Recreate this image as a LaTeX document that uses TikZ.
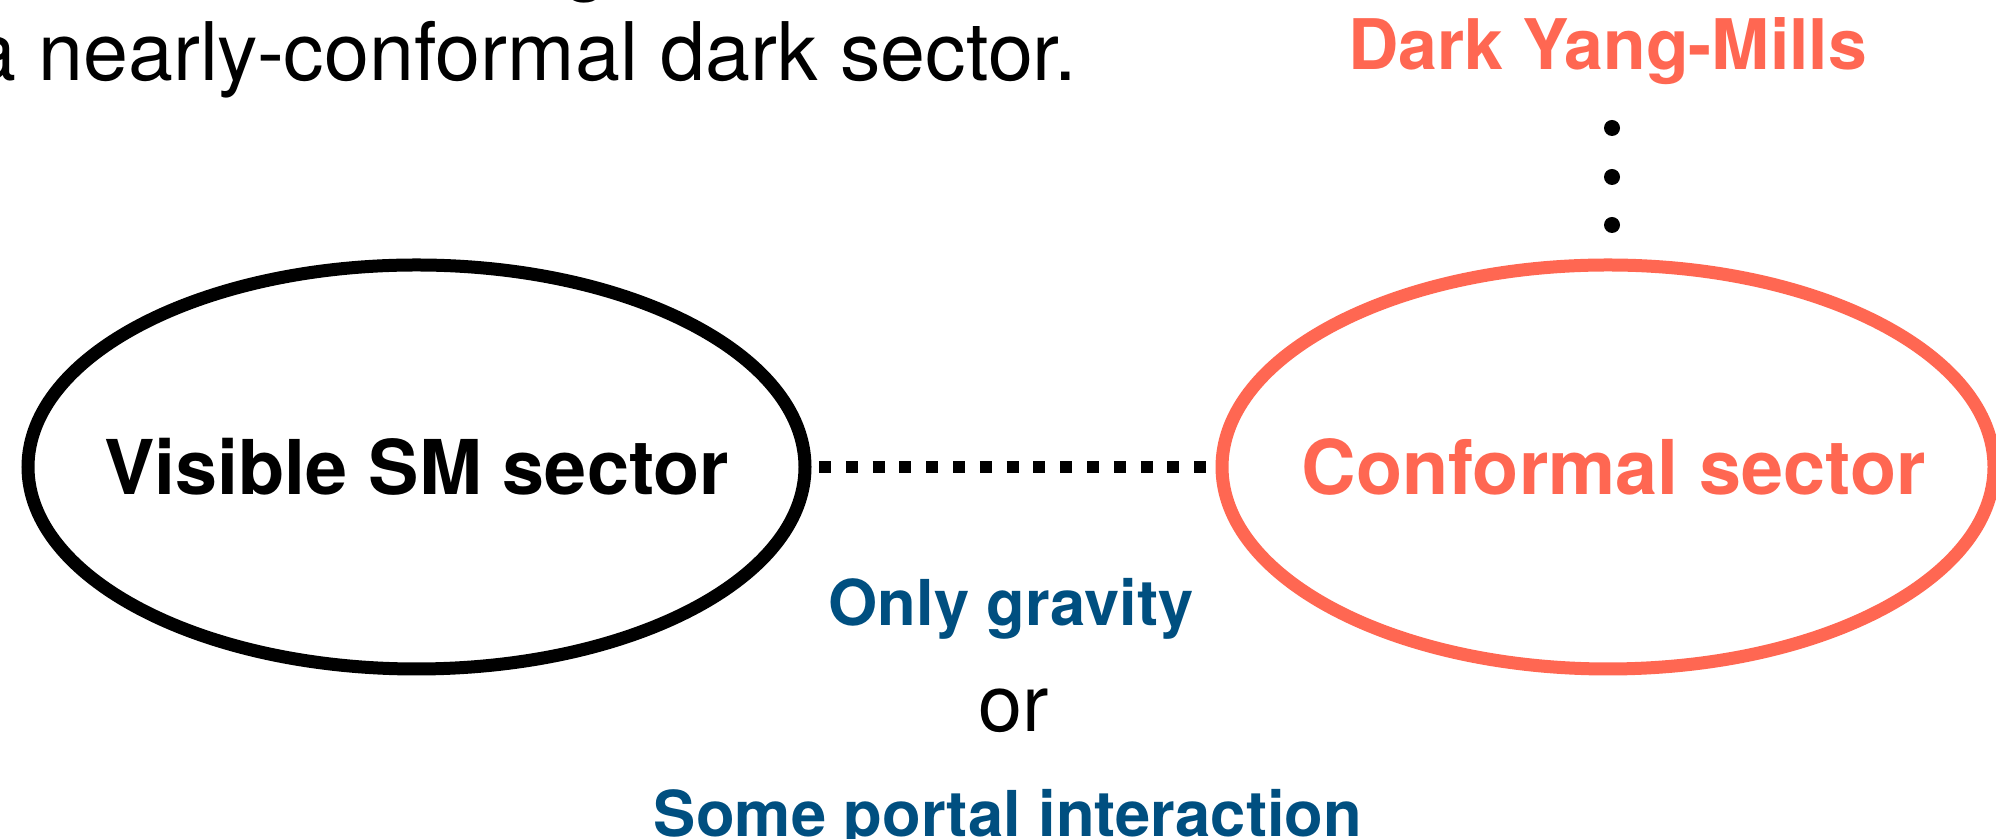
\documentclass[tikz,border=0pt]{standalone}
\usepackage{fontspec}
\setmainfont{TeX Gyre Heros}
\usepackage{tikz}
\usetikzlibrary{shapes,shapes.geometric}
\usetikzlibrary{positioning}
\definecolor{darkcoral}{RGB}{255,103,82}
\definecolor{portalblue}{RGB}{0,79,128}
\newcommand{\sectorfont}{\fontsize{43}{51}\selectfont\bfseries}
\newcommand{\namefont}{\fontsize{39.7}{47}\selectfont\bfseries}
\newcommand{\portalfont}{\fontsize{36}{43}\selectfont\bfseries}
\newcommand{\plainfont}{\fontsize{46}{55}\selectfont}
\newcommand{\orfont}{\fontsize{45}{54}\selectfont}
\tikzset{
  sector/.style={ellipse,draw,line width=0.26cm,minimum width=15.54cm,
    minimum height=8.08cm,inner sep=0pt},
  blob/.style={circle,fill,inner sep=0pt,minimum size=0.32cm},
  portal/.style={line width=0.24cm,dash pattern=on 0.24cm off 0.296cm}
}

\begin{document}
\begin{tikzpicture}
\useasboundingbox (0,0) rectangle (39.92,16.78);
\node[sector] (vis) at (8.33,7.44) {};
\node[sector,draw=darkcoral,minimum width=15.44cm] (conf) at (32.16,7.44) {};
\draw(vis) node (vislabel) {\sectorfont Visible SM sector};
\draw(conf)+(0.11,0) node[text=darkcoral] (conflabel) {\sectorfont Conformal sector};
\draw[portal,shorten <=0.15cm,shorten >=0.19cm] (vis.east) -- (conf.west);
\draw(32.15,15.38) node[anchor=base,text=darkcoral] (ym) {\namefont Dark Yang-Mills};
\foreach \y [count=\i] in {14.22,13.24,12.28}
  \node[blob] (dot\i) at (32.24,\y) {};
\draw(20.22,4.26) node[anchor=base,text=portalblue] (grav) {\portalfont Only gravity};
\draw(20.28,2.14) node[anchor=base] (or) {\orfont or};
\draw(20.16,0.04) node[anchor=base,text=portalblue] (port) {\portalfont Some portal interaction};
\draw(21.54,15.16) node[anchor=base east,inner sep=0pt] (line) {\plainfont a nearly-conformal dark sector.};
\draw(11.72,17.07) node[anchor=base,inner sep=0pt] (prev) {\plainfont g};
\end{tikzpicture}
\end{document}
